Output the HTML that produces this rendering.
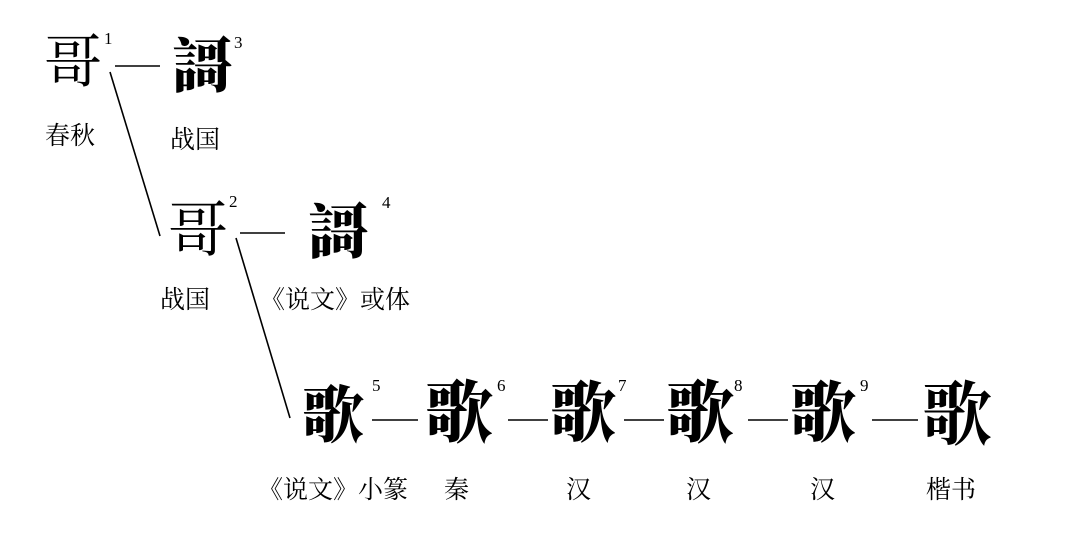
<!DOCTYPE html>
<html><head><meta charset="utf-8"><style>
html,body{margin:0;padding:0;background:#fff;}
body{width:1074px;height:542px;position:relative;overflow:hidden;}
.g{position:absolute;font-family:"Noto Serif CJK SC","WenQuanYi Zen Hei",serif;font-weight:900;color:#000;line-height:1;}
.n{position:absolute;font-family:"Liberation Serif",serif;font-size:17px;color:#000;line-height:1;}
.l{position:absolute;font-family:"Liberation Serif","Noto Serif CJK SC",serif;font-size:25px;color:#000;line-height:1;white-space:nowrap;}
</style></head><body>
<svg width="1074" height="542" style="position:absolute;left:0;top:0">
<g stroke="#000" stroke-width="1.6" fill="none">
<line x1="115" y1="66" x2="160" y2="66"/>
<line x1="110" y1="72" x2="160" y2="236"/>
<line x1="240" y1="233" x2="285" y2="233"/>
<line x1="236" y1="238" x2="290" y2="418"/>
<line x1="372" y1="420" x2="418" y2="420"/>
<line x1="508" y1="420" x2="548" y2="420"/>
<line x1="624" y1="420" x2="664" y2="420"/>
<line x1="748" y1="420" x2="788" y2="420"/>
<line x1="872" y1="420" x2="918" y2="420"/>
</g></svg>
<div class="g" style="left:44px;top:28px;font-size:58px;font-weight:400">哥</div>
<div class="n" style="left:104px;top:30px">1</div>
<div class="l" style="left:45px;top:124px">春秋</div>
<div class="g" style="left:172px;top:32px;font-size:60px">謌</div>
<div class="n" style="left:234px;top:34px">3</div>
<div class="l" style="left:170px;top:128px">战国</div>
<div class="g" style="left:168px;top:196px;font-size:60px;font-weight:400">哥</div>
<div class="n" style="left:229px;top:193px">2</div>
<div class="l" style="left:160px;top:288px">战国</div>
<div class="g" style="left:308px;top:198px;font-size:60px">謌</div>
<div class="n" style="left:382px;top:194px">4</div>
<div class="l" style="left:260px;top:288px">《说文》或体</div>
<div class="g" style="left:302px;top:380px;font-size:62px">歌</div>
<div class="n" style="left:372px;top:377px">5</div>
<div class="g" style="left:425px;top:375px;font-size:68px">歌</div>
<div class="n" style="left:497px;top:377px">6</div>
<div class="g" style="left:550px;top:375px;font-size:66px">歌</div>
<div class="n" style="left:618px;top:377px">7</div>
<div class="g" style="left:666px;top:375px;font-size:68px">歌</div>
<div class="n" style="left:734px;top:377px">8</div>
<div class="g" style="left:790px;top:375px;font-size:66px">歌</div>
<div class="n" style="left:860px;top:377px">9</div>
<div class="g" style="left:922px;top:375px;font-size:70px;font-weight:700">歌</div>
<div class="l" style="left:258px;top:478px">《说文》小篆</div>
<div class="l" style="left:444px;top:478px">秦</div>
<div class="l" style="left:566px;top:478px">汉</div>
<div class="l" style="left:686px;top:478px">汉</div>
<div class="l" style="left:810px;top:478px">汉</div>
<div class="l" style="left:926px;top:478px">楷书</div>
</body></html>
